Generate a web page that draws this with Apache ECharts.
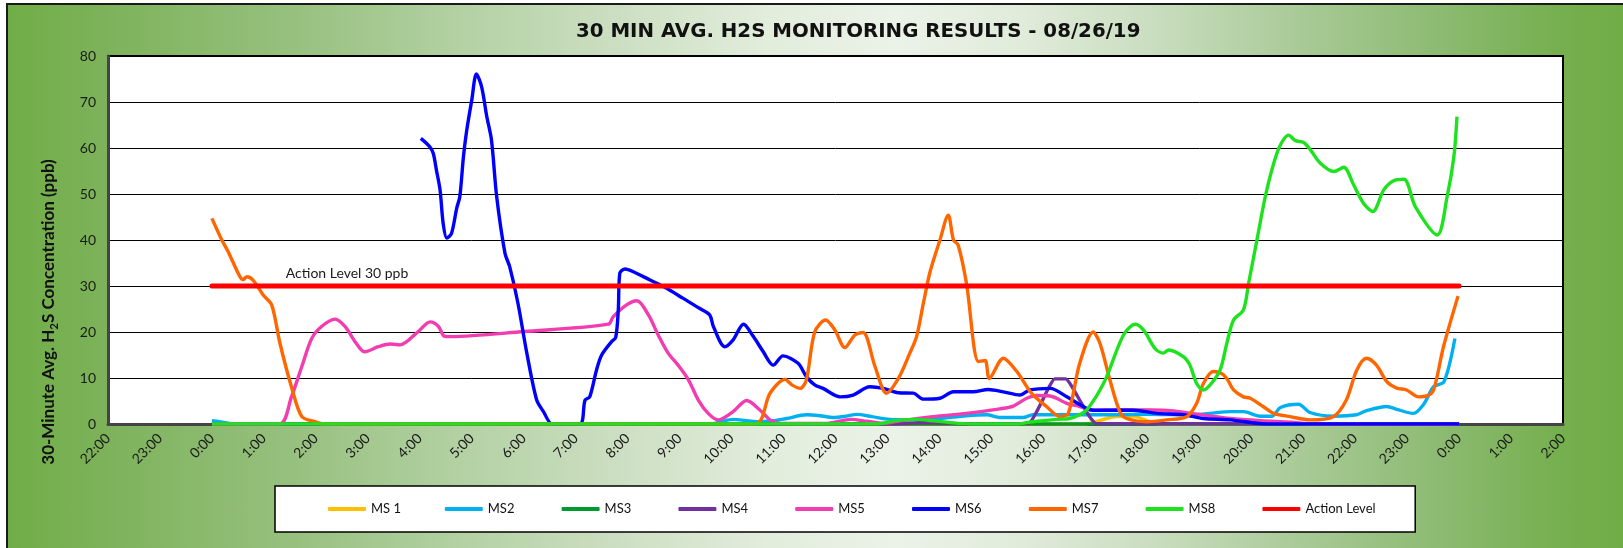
<!DOCTYPE html>
<html>
<head>
<meta charset="utf-8">
<script src="https://cdn.jsdelivr.net/npm/echarts@6/dist/echarts.min.js"></script>
<style>
  html, body { margin: 0; padding: 0; background: #ffffff; }
  #frame {
    position: absolute; left: 6px; top: 3px; width: 1617px; height: 545px;
    box-sizing: border-box; border-left: 2px solid #1a1a1a; border-top: 2px solid #1a1a1a;
    background: linear-gradient(90deg, #70AD47 0%, #7DB25A 6%, #98C180 18%, #B3D1A3 28%, #CDDFC3 38%, #E2EDDC 47%, #EBF2E8 55%, #E0EBDA 63%, #C9DDBF 71%, #A9CA97 80%, #8BBA70 89%, #76AF4F 96%, #70AD47 100%);
  }
  #chart { position: absolute; left: 0; top: 0; width: 1623px; height: 548px; }
</style>
</head>
<body>
<div id="frame"></div>
<div id="chart"></div>
<script>
// ---- data (hour of day, ppb) ----
const titleText = '30 MIN AVG. H2S MONITORING RESULTS - 08/26/19';
const seriesNames = ['MS 1', 'MS2', 'MS3', 'MS4', 'MS5', 'MS6', 'MS7', 'MS8', 'Action Level'];
const actionLabel = 'Action Level 30 ppb';

const ms1 = [[0,0],[16.8,0],[17.1,0.8],[17.4,1.6],[17.75,1.6],[18.0,0.7],[18.25,0],[24,0]];

const ms2 = [[0,0.7],[0.2,0.4],[0.45,0],[9.6,0],[9.8,0.5],[10.03,1.0],[10.25,0.8],[10.48,0.5],[10.8,0.7],
  [11.06,1.2],[11.44,2.0],[11.7,1.8],[11.96,1.4],[12.2,1.7],[12.41,2.1],[12.7,1.6],[13.05,1.0],[13.5,0.9],
  [14.0,1.2],[14.52,1.8],[14.91,2.0],[15.16,1.4],[15.61,1.4],[15.8,2.0],[16.45,2.0],[17.44,2.0],[18.0,2.1],
  [18.82,2.0],[19.2,2.3],[19.6,2.7],[19.85,2.7],[20.17,1.7],[20.4,1.7],[20.56,3.6],[20.91,4.3],[21.13,2.5],
  [21.58,1.7],[22.03,2.0],[22.22,2.9],[22.61,3.8],[22.8,3.2],[23.12,2.3],[23.32,4.3],[23.51,8.1],[23.71,9.2],
  [23.92,18.6]];

const ms3 = [[0,0],[24,0]];

const ms4 = [[0,0],[13.2,0],[13.6,0.3],[14.1,0.2],[14.5,0],[15.72,0.2],[16.22,9.8],[16.43,9.8],[17.02,0.1],[24,0]];

const ms5 = [[0,0],[1.3,0],[1.53,5.9],[1.73,12.5],[1.92,18.6],[2.11,21.2],[2.37,22.8],[2.56,21.2],[2.78,17.5],
  [2.94,15.7],[3.2,16.8],[3.43,17.4],[3.62,17.2],[3.97,20.1],[4.2,22.2],[4.36,21.2],[4.47,19.1],[4.6,19.0],
  [6.0,20.1],[7.63,21.7],[7.72,23.3],[7.98,25.9],[8.18,26.8],[8.4,23.7],[8.59,19.3],[8.78,15.4],[8.97,12.8],
  [9.17,9.6],[9.36,5.2],[9.55,2.3],[9.74,0.9],[10.03,2.7],[10.29,5.1],[10.55,3.0],[10.74,0.9],[10.95,0.1],
  [11.8,0.1],[12.3,1.0],[12.6,0.6],[12.92,0.15],[13.24,0.7],[13.88,1.6],[14.52,2.3],[15.16,3.3],[15.42,3.9],
  [15.68,5.6],[15.87,6.2],[16.13,6.1],[16.45,4.5],[16.7,3.8],[16.96,3.0],[17.5,3.1],[18.3,3.0],[19.0,2.1],
  [19.6,1.2],[20.2,0.7],[20.75,0.4],[21.2,0],[24,0]];

const ms6 = [[4.02,62.1],[4.19,60.3],[4.26,58.8],[4.32,55.2],[4.39,50.9],[4.45,43.6],[4.52,40.4],[4.61,41.4],
  [4.71,46.9],[4.77,49.4],[4.84,58.1],[4.9,63.6],[5.0,70.4],[5.09,76.1],[5.19,73.3],[5.29,66.8],[5.38,61.7],
  [5.48,49.4],[5.64,37.1],[5.73,34.2],[5.89,26.2],[6.06,15.4],[6.25,5.2],[6.38,2.7],[6.55,0],[7.08,0],
  [7.18,5.2],[7.27,5.9],[7.4,11.7],[7.5,15.0],[7.69,17.9],[7.77,18.8],[7.82,24.8],[7.85,32.8],[7.95,33.7],
  [8.11,33.1],[8.43,31.3],[8.75,29.5],[9.07,27.3],[9.39,25.1],[9.58,23.7],[9.65,21.2],[9.87,16.8],[10.03,18.3],
  [10.23,21.7],[10.42,19.0],[10.61,15.7],[10.8,12.8],[10.99,14.8],[11.28,13.2],[11.44,10.3],[11.6,8.5],
  [11.76,7.75],[12.09,5.9],[12.34,6.3],[12.66,8.1],[12.92,7.75],[13.21,6.8],[13.5,6.7],[13.69,5.4],[14.01,5.6],
  [14.27,7.0],[14.65,7.0],[14.94,7.5],[15.23,7.0],[15.55,6.3],[15.74,7.4],[16.13,7.75],[16.45,5.9],[16.83,3.4],
  [16.96,3.0],[17.73,3.0],[18.18,2.3],[18.7,2.0],[19.08,1.2],[19.6,0.9],[20.1,0.15],[20.3,0],[24,0]];

const ms7 = [[0,44.7],[0.19,40],[0.31,37.5],[0.54,32],[0.6,31.4],[0.67,32],[0.79,31.3],[0.99,28],[1.15,25.9],
  [1.31,17.5],[1.53,8.1],[1.73,1.6],[1.98,0.5],[2.15,0],[10.45,0],[10.74,6.7],[11.03,9.7],[11.16,8.5],
  [11.32,7.75],[11.44,9.6],[11.6,20],[11.81,22.6],[11.99,20.4],[12.18,16.6],[12.37,19.3],[12.53,19.9],
  [12.76,12.5],[12.98,6.7],[13.21,9.9],[13.43,15.4],[13.56,19],[13.69,26.2],[13.82,33.1],[14.01,40],
  [14.17,45.4],[14.27,40],[14.36,38.9],[14.52,30.6],[14.75,13.6],[14.88,13.8],[14.96,9.9],[15.23,14.3],
  [15.49,11.4],[15.77,6.7],[16.06,3.8],[16.32,1.6],[16.48,2.3],[16.7,13.2],[16.96,20],[17.09,17.5],
  [17.28,9.6],[17.47,2.7],[17.6,1.2],[17.99,0.5],[18.37,0.9],[18.76,1.6],[18.95,4.5],[19.08,8.8],[19.27,11.4],
  [19.43,11],[19.53,9.9],[19.66,7.4],[19.85,5.9],[19.98,5.6],[20.23,3.8],[20.43,2.3],[20.75,1.6],[21.13,0.9],
  [21.58,1.6],[21.83,5.2],[22.03,11.7],[22.22,14.3],[22.41,12.8],[22.61,9.2],[22.8,7.8],[22.99,7.4],
  [23.22,5.9],[23.38,6.1],[23.51,7.4],[23.7,16.8],[23.98,27.8]];

const ms8 = [[0,0],[12.8,0],[13.11,0.65],[13.5,1.0],[13.88,0.7],[14.2,0.3],[14.6,0],[15.5,0],[15.8,0.5],
  [16.25,1.0],[16.51,1.2],[16.7,2.0],[16.83,3.0],[16.96,5.0],[17.09,7.4],[17.22,10.3],[17.54,19.3],[17.77,21.7],
  [17.93,20.4],[18.15,16.4],[18.31,15.4],[18.41,16.1],[18.7,14.6],[18.82,12.8],[18.95,8.8],[19.08,7.4],
  [19.21,8.5],[19.4,11.7],[19.53,17.5],[19.66,22.6],[19.85,24.8],[19.95,30.6],[20.11,40],[20.3,50.9],
  [20.53,59.9],[20.72,62.8],[20.85,61.6],[21.01,61.2],[21.14,59.6],[21.33,56.7],[21.59,54.9],[21.78,55.8],
  [21.97,52],[22.16,48],[22.34,46.2],[22.55,50.9],[22.74,52.9],[22.94,53.2],[23.16,47.2],[23.58,41.1],
  [23.77,49.4],[23.9,58.1],[23.96,66.8]];

const actionLevel = [[0,30],[2.6,30],[24,30]];
const actionLabelIndex = 1;

const colors = ['#FFC000', '#00B0F0', '#009A2E', '#7030A0', '#F23DB0', '#0000FF', '#FF6600', '#1FE21F', '#FF0000'];
const seriesData = [ms1, ms2, ms3, ms4, ms5, ms6, ms7, ms8];

// ---- chart ----
const chart = echarts.init(document.getElementById('chart'), null, { renderer: 'canvas' });

const series = seriesData.map((d, i) => ({
  name: seriesNames[i], type: 'line', data: d, smooth: i === 3 ? 0.12 : 0.3, symbol: 'none',
  lineStyle: { width: 3.4, color: colors[i] }, itemStyle: { color: colors[i] },
  emphasis: { disabled: true }, silent: true
}));
series.push({
  name: seriesNames[8], type: 'line', symbol: 'circle', symbolSize: 1, showSymbol: true, showAllSymbol: true,
  silent: true,
  lineStyle: { width: 5, color: colors[8], cap: 'round' }, itemStyle: { color: colors[8] },
  emphasis: { disabled: true },
  data: actionLevel.map((p, i) => i === actionLabelIndex ? {
    value: p,
    label: { show: true, position: 'top', distance: 5, formatter: actionLabel,
             fontFamily: 'Lato', fontSize: 14, color: '#1a1a1a' }
  } : p)
});

chart.setOption({
  animation: false,
  backgroundColor: 'transparent',
  title: {
    text: titleText, left: 576, top: 22, padding: 0,
    textStyle: { fontFamily: 'DejaVu Sans', fontWeight: 'bold', fontSize: 19.8, color: '#111' }
  },
  grid: {
    left: 108, right: 60, top: 56, bottom: 124, show: true,
    backgroundColor: '#ffffff', borderColor: '#000000', borderWidth: 2
  },
  legend: {
    left: 275, top: 486, orient: 'horizontal',
    padding: [15, 36, 15, 53], itemGap: 0, itemWidth: 38, itemHeight: 4, icon: 'roundRect',
    backgroundColor: '#ffffff', borderColor: '#000000', borderWidth: 1.5,
    textStyle: { fontFamily: 'Lato', fontSize: 13, color: '#111', width: 73.8, lineHeight: 16 },
    data: seriesNames
  },
  xAxis: {
    type: 'value', min: -2, max: 26, interval: 1,
    axisLine: { show: true, onZero: false, lineStyle: { color: '#444', width: 3 } },
    axisTick: { show: false },
    splitLine: { show: false },
    axisLabel: {
      rotate: 45, margin: 12, fontFamily: 'Lato', fontSize: 14, color: '#1a1a1a',
      formatter: v => (((v % 24) + 24) % 24) + ':00'
    }
  },
  yAxis: {
    type: 'value', min: 0, max: 80, interval: 10,
    name: '{a|30-Minute Avg. H}{s|2}{a|S Concentration (ppb)}',
    nameLocation: 'middle', nameRotate: 90, nameGap: 51,
    nameTextStyle: {
      padding: [0, 144, 0, 0],
      rich: {
        a: { fontFamily: 'Lato', fontWeight: 'bold', fontSize: 17, color: '#111', lineHeight: 21, verticalAlign: 'bottom' },
        s: { fontFamily: 'Lato', fontWeight: 'bold', fontSize: 11.5, color: '#111', lineHeight: 21, verticalAlign: 'bottom', padding: [0, 0, -3, 0] }
      }
    },
    axisLine: { show: true, onZero: false, lineStyle: { color: '#444', width: 3 } },
    axisTick: { show: false },
    splitLine: { show: true, lineStyle: { color: '#000', width: 1 } },
    axisLabel: { margin: 12, fontFamily: 'Lato', fontSize: 14, color: '#1a1a1a' }
  },
  series: series
});
</script>
</body>
</html>
